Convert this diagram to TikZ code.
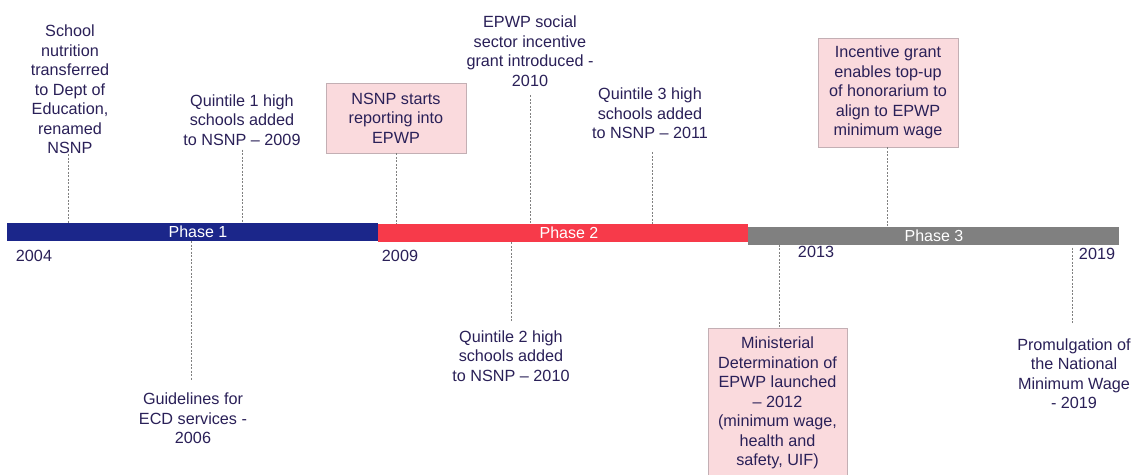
\documentclass[tikz,border=0pt]{standalone}
\usepackage{fontspec}
\setmainfont{Liberation Sans}
\usetikzlibrary{positioning}
\definecolor{phaseblue}{RGB}{27,38,138}
\definecolor{phasered}{RGB}{247,58,74}
\definecolor{phasegray}{RGB}{128,128,128}
\definecolor{eventtext}{RGB}{42,32,88}
\definecolor{boxpink}{RGB}{250,218,221}
\definecolor{boxedge}{RGB}{195,175,180}

\begin{document}
\begin{tikzpicture}[x=1pt, y=-1pt,
    phase/.style={fill=#1, minimum height=18pt, inner sep=0pt, text=white, font=\fontsize{16}{18}\selectfont},
    event/.style={align=center, inner sep=0pt, text=eventtext, font=\fontsize{16.2}{19.5}\selectfont},
    eventbox/.style={event, draw=boxedge, fill=boxpink, line width=0.6pt},
    year/.style={inner sep=0pt, text=eventtext, font=\fontsize{16.2}{19.5}\selectfont},
    leader/.style={draw=phasegray, line width=0.7pt, dash pattern=on 2pt off 1.5pt},
]
\path[fill=white, use as bounding box] (0,0) rectangle (1137,474);
% Phases
\node[phase=phaseblue, minimum width=371pt] (ph1) at (192.5,232) {};
\node[phase=phasered, minimum width=370pt] (ph2) at (563,233) {};
\node[phase=phasegray, minimum width=371pt] (ph3) at (933.5,235.5) {};
\node[text=white, font=\fontsize{16}{18}\selectfont] (lab1) at (198,232) {Phase 1};
\node[text=white, font=\fontsize{16}{18}\selectfont] (lab2) at (569,233) {Phase 2};
\node[text=white, font=\fontsize{16}{18}\selectfont] (lab3) at (934,235.5) {Phase 3};
% Years
\node[year] (y2004) at (34,256) {2004};
\node[year] (y2009) at (400,256) {2009};
\node[year] (y2013) at (816,252) {2013};
\node[year] (y2019) at (1097,254) {2019};
% Events above the line
\node[event] (ev1) at (70,89.5) {School\\nutrition\\transferred\\to Dept of\\Education,\\renamed\\NSNP};
\node[event] (ev2) at (242,120) {Quintile 1 high\\schools added\\to NSNP -- 2009};
\node[eventbox, minimum width=140pt, minimum height=70pt] (ev3) at (396,118) {NSNP starts\\reporting into\\EPWP};
\node[event] (ev4) at (530,51) {EPWP social\\sector incentive\\grant introduced -\\2010};
\node[event] (ev5) at (650,113.5) {Quintile 3 high\\schools added\\to NSNP -- 2011};
\node[eventbox, minimum width=140pt, minimum height=109pt] (ev6) at (888,92.5) {Incentive grant\\enables top-up\\of honorarium to\\align to EPWP\\minimum wage};
% Events below the line
\node[event] (ev7) at (193,418.5) {Guidelines for\\ECD services -\\2006};
\node[event] (ev8) at (511,356) {Quintile 2 high\\schools added\\to NSNP -- 2010};
\node[eventbox, minimum width=139pt, minimum height=150pt] (ev9) at (777.5,403) {Ministerial\\Determination of\\EPWP launched\\-- 2012\\(minimum wage,\\health and\\safety, UIF)};
\node[event] (ev10) at (1074,373.5) {Promulgation of\\the National\\Minimum Wage\\- 2019};
% Leaders
\draw[leader] ([xshift=-2pt]ev1.south) -- ([xshift=-2pt]ev1.south |- ph1.north);
\draw[leader, shorten <=4pt] (ev2.south) -- (ev2.south |- ph1.north);
\draw[leader] (ev3.south) -- (ev3.south |- ph2.north);
\draw[leader, shorten <=9pt] (ev4.south) -- (ev4.south |- ph2.north);
\draw[leader, shorten <=13pt] ([xshift=2pt]ev5.south) -- ([xshift=2pt]ev5.south |- ph2.north);
\draw[leader] ([xshift=-1pt]ev6.south) -- ([xshift=-1pt]ev6.south |- ph3.north);
\draw[leader, shorten >=12pt] ([xshift=-2pt]ph1.south -| ev7.north) -- ([xshift=-2pt]ev7.north);
\draw[leader, shorten >=9pt] (ph2.south -| ev8.north) -- (ev8.north);
\draw[leader] ([xshift=1.5pt]ph3.south -| ev9.north) -- ([xshift=1.5pt]ev9.north);
\draw[leader, shorten <=3pt, shorten >=15pt] ([xshift=-2pt]ph3.south -| ev10.north) -- ([xshift=-2pt]ev10.north);
\end{tikzpicture}
\end{document}
